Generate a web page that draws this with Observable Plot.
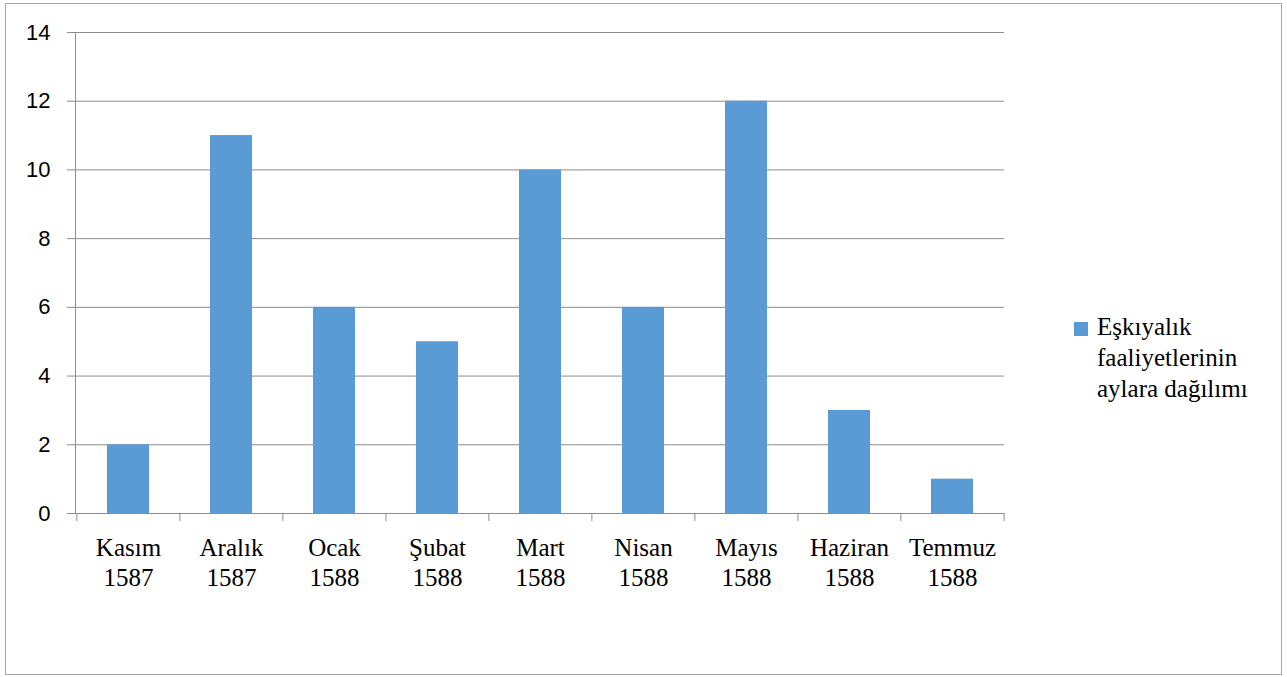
<!DOCTYPE html>
<html>
<head>
<meta charset="utf-8">
<script src="https://cdn.jsdelivr.net/npm/d3@7"></script>
<script src="https://cdn.jsdelivr.net/npm/@observablehq/plot@0.6"></script>
<style>
  html, body { margin: 0; padding: 0; background: #fff; }
  #wrap { position: relative; width: 1287px; height: 677px; overflow: hidden; }
  #border { position: absolute; left: 5px; top: 3px; width: 1277px; height: 672px; border: 1px solid #a6a6a6; box-sizing: border-box; }
  #chart { position: absolute; left: 0; top: 0; }
  #legend { position: absolute; left: 1074px; top: 311px; font-family: "Liberation Serif", serif; font-size: 25px; line-height: 31px; color: #000; display: flex; align-items: flex-start; }
  #legend .sw { width: 14px; height: 14px; background: #5B9BD5; margin-top: 11px; margin-right: 9px; flex: none; }
</style>
</head>
<body>
<div id="wrap">
  <div id="border"></div>
  <div id="chart"></div>
  <div id="legend"><div class="sw"></div><div id="legtext"></div></div>
</div>
<script>
const months = ["Kasım", "Aralık", "Ocak", "Şubat", "Mart", "Nisan", "Mayıs", "Haziran", "Temmuz"];
const years = ["1587", "1587", "1588", "1588", "1588", "1588", "1588", "1588", "1588"];
const values = [2, 11, 6, 5, 10, 6, 12, 3, 1];
const seriesName = ["Eşkıyalık", "faaliyetlerinin", "aylara dağılımı"];
const yTicks = [0, 2, 4, 6, 8, 10, 12, 14];

const categories = months.map((m, i) => m + "\n" + years[i]);
const data = categories.map((c, i) => ({ cat: c, value: values[i] }));

const W = 1287, H = 620;
const mL = 75, mR = 283, mT = 32, mB = 107;
const step = (W - mL - mR) / categories.length;
const pInner = 0.593;

const gridColor = "#8c8c8c";

const plot = Plot.plot({
  width: W,
  height: H,
  marginLeft: mL,
  marginRight: mR,
  marginTop: mT,
  marginBottom: mB,
  style: { background: "transparent", overflow: "visible" },
  x: { domain: categories, paddingInner: pInner, paddingOuter: pInner / 2, label: null },
  y: { domain: [0, 14], ticks: yTicks, label: null },
  marks: [
    Plot.gridY(yTicks, { stroke: gridColor, strokeOpacity: 1, strokeWidth: 1 }),
    Plot.axisY(yTicks, {
      tickSize: 8, tickPadding: 17, stroke: gridColor,
      fontSize: 22, fontFamily: "Liberation Sans, Arial, sans-serif", fill: "#000",
      tickFormat: d => String(d)
    }),
    Plot.frame({ anchor: "left", stroke: gridColor }),
    Plot.barY(data, { x: "cat", y: "value", fill: "#5B9BD5" }),
    Plot.ruleY([0], { stroke: gridColor }),
    Plot.ruleX(categories, { x: d => d, y1: 0, y2: 0, insetBottom: -8, dx: -step / 2, stroke: gridColor }),
    Plot.ruleX([categories[categories.length - 1]], { x: d => d, y1: 0, y2: 0, insetBottom: -8, dx: step / 2, stroke: gridColor }),
    Plot.axisX({
      tickSize: 0, tickPadding: 21,
      fontSize: 25, fontFamily: "Liberation Serif, serif", fill: "#000",
      lineHeight: 1.2
    })
  ]
});
document.getElementById("chart").appendChild(plot);
document.getElementById("legtext").innerHTML = seriesName.join("<br>");
</script>
</body>
</html>
